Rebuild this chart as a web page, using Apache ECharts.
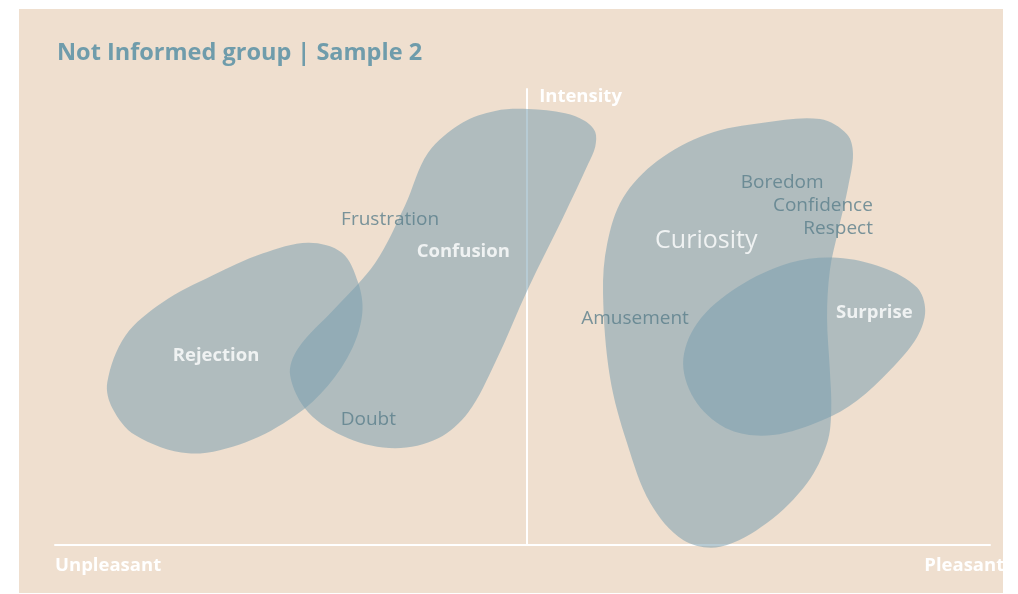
<!DOCTYPE html>
<html>
<head>
<meta charset="utf-8">
<title>Not Informed group | Sample 2</title>
<script src="https://cdn.jsdelivr.net/npm/echarts@6/dist/echarts.min.js"></script>
<style>
  html, body { margin: 0; padding: 0; background: #ffffff; }
  #chart { width: 1018px; height: 594px; }
</style>
</head>
<body>
<div id="chart"></div>
<script>
// valence runs from unpleasant (-102) to pleasant (100), intensity from 0 to 100
const rejectionOutline = [
    [-90.7, 35.7], [-86.8, 45.9], [-78.8, 53.2], [-68.0, 59.1], [-57.2, 63.9], [-47.3, 66.3],
    [-40.0, 64.1], [-36.5, 57.5], [-35.6, 51.0], [-37.8, 43.1], [-43.0, 35.0], [-50.1, 28.4],
    [-60.9, 22.5], [-73.2, 20.1], [-84.7, 24.1], [-89.6, 30.0]
];
const confusionOutline = [
    [0.2, 95.6], [8.2, 94.7], [12.5, 93.0], [14.7, 90.6], [14.7, 87.3], [13.2, 83.6],
    [7.6, 71.5], [0.2, 56.2],
    [-6.9, 40.0], [-12.7, 29.1], [-19.2, 23.4], [-28.5, 21.2], [-38.7, 23.4], [-47.3, 29.1],
    [-51.2, 37.2], [-49.5, 43.1], [-41.5, 51.9], [-32.8, 61.9], [-26.4, 74.4], [-21.4, 86.0],
    [-14.0, 92.6], [-6.9, 95.2]
];
const curiosityOutline = [
    [63.3, 93.4], [69.1, 90.1], [70.4, 85.8], [69.3, 78.3], [67.2, 68.9], [65.4, 60.2],
    [64.8, 49.9], [65.4, 38.3], [65.7, 29.5], [64.8, 22.3], [60.5, 13.6], [51.8, 4.8],
    [41.7, -0.4], [33.7, 1.1], [26.6, 9.2], [21.6, 22.3], [17.9, 36.8], [16.4, 55.1],
    [17.3, 66.1], [20.7, 76.1], [28.1, 84.2], [38.9, 90.1], [51.0, 92.6]
];
const surpriseOutline = [
    [67.0, 63.0], [76.9, 60.8], [84.2, 56.5], [86.0, 51.4], [84.2, 45.5], [78.4, 38.3],
    [71.3, 31.7], [63.9, 27.4], [53.1, 24.1], [43.9, 25.2], [36.7, 31.1], [33.7, 39.8],
    [36.7, 48.6], [45.4, 56.5], [56.8, 61.9]
];
const blobs = [rejectionOutline, confusionOutline, curiosityOutline, surpriseOutline];

const emotionNames = ['Frustration', 'Confusion', 'Rejection', 'Doubt', 'Curiosity',
    'Boredom', 'Confidence', 'Respect', 'Amusement', 'Surprise'];
const emotionX = [-29.6, -13.8, -67.2, -34.3, 38.7, 55.1, 63.9, 67.2, 23.3, 75.0];
const emotionY = [71.3, 64.3, 41.6, 27.6, 66.7, 79.4, 74.4, 69.4, 49.7, 51.0];

const axisEnds = ['Unpleasant', 'Pleasant'];
const axisEndValues = [-102, 85.8];

const FONT = 'Open Sans';
const boldEmotions = ['Confusion', 'Rejection', 'Surprise'];

const chart = echarts.init(document.getElementById('chart'));

const labelData = emotionNames.map((name, i) => {
    const bold = boldEmotions.indexOf(name) >= 0;
    const big = name === 'Curiosity';
    return {
        name: name,
        value: [emotionX[i], emotionY[i]],
        label: {
            color: (bold || big) ? '#ffffff' : '#5a7e8b',
            fontWeight: bold ? 'bold' : 'normal',
            fontSize: big ? 25 : (bold ? 18.5 : 19)
        }
    };
});

const option = {
    backgroundColor: 'transparent',
    animation: false,
    title: {
        text: 'Not Informed group | Sample 2',
        left: 52,
        top: 36,
        textStyle: { fontFamily: FONT, fontSize: 23.5, fontWeight: 'bold', color: '#6f9cab' }
    },
    graphic: [{
        type: 'rect',
        z: -10,
        shape: { x: 19, y: 9, width: 984, height: 584 },
        style: { fill: '#efdfcf' }
    }],
    grid: { left: 55, right: 28, top: 89, bottom: 49 },
    xAxis: {
        type: 'value',
        min: -102,
        max: 100,
        splitLine: { show: false },
        axisTick: { show: false },
        axisLine: { lineStyle: { color: '#ffffff', width: 2 } },
        axisLabel: {
            customValues: axisEndValues,
            formatter: (v) => axisEnds[axisEndValues.indexOf(v)],
            align: 'left',
            margin: 11,
            color: '#ffffff',
            fontFamily: FONT,
            fontWeight: 'bold',
            fontSize: 18.5
        }
    },
    yAxis: {
        type: 'value',
        min: 0,
        max: 100,
        name: 'Intensity',
        nameLocation: 'end',
        nameGap: -8,
        nameTextStyle: {
            align: 'left', verticalAlign: 'middle', padding: [0, 0, 0, 12],
            color: '#ffffff', fontFamily: FONT, fontWeight: 'bold', fontSize: 18.5
        },
        splitLine: { show: false },
        axisTick: { show: false },
        axisLabel: { show: false },
        axisLine: { onZero: true, lineStyle: { color: '#ffffff', width: 2 } }
    },
    series: [
        {
            type: 'custom',
            clip: false,
            data: blobs.map((b, i) => i),
            renderItem: (params, api) => {
                const pts = blobs[params.dataIndex].map(p => api.coord(p));
                return {
                    type: 'polygon',
                    shape: { points: pts, smooth: 0.34 },
                    style: { fill: 'rgba(122,158,176,0.54)' }
                };
            }
        },
        {
            type: 'scatter',
            symbolSize: 0,
            z: 5,
            data: labelData,
            label: {
                show: true,
                position: 'inside',
                formatter: '{b}',
                fontFamily: FONT
            }
        }
    ]
};

chart.setOption(option);
</script>
</body>
</html>
